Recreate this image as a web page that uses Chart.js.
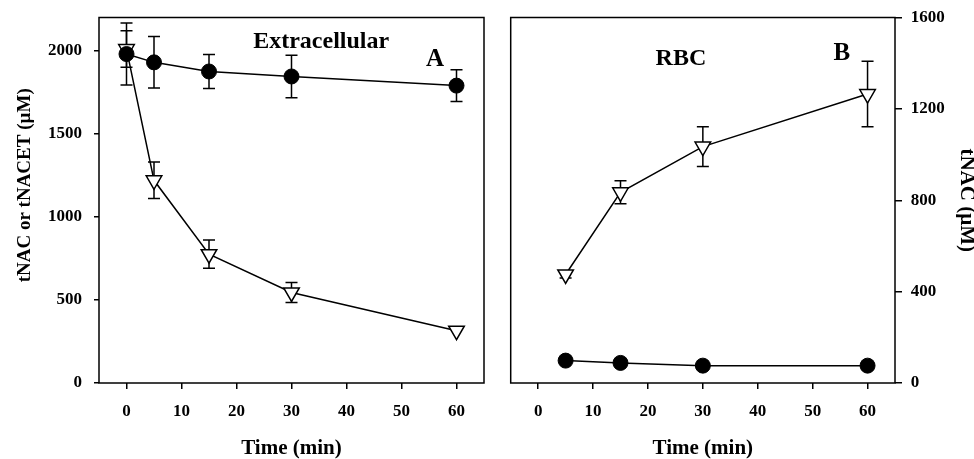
<!DOCTYPE html>
<html>
<head>
<meta charset="utf-8">
<script src="https://cdn.jsdelivr.net/npm/chart.js@4.4.0/dist/chart.umd.min.js"></script>
<style>
  html, body { margin: 0; padding: 0; background: #fff; }
  #wrap { position: relative; width: 974px; height: 459px; }
  canvas { position: absolute; top: 0; }
  #chartA { left: 0; }
  #chartB { left: 495px; }
</style>
</head>
<body>
<div id="wrap">
  <canvas id="chartA" width="495" height="459"></canvas>
  <canvas id="chartB" width="479" height="459"></canvas>
</div>
<script>
// --- DATA ---
const timeA = [0, 5, 15, 30, 60];
const nacA = [1980, 1930, 1875, 1845, 1790];
const nacAErr = [187, 155, 103, 128, 95];
const nacetA = [2010, 1220, 775, 545, 315];
const nacetAErr = [110, 110, 85, 60, 0];

const timeB = [5, 15, 30, 60];
const nacB = [98, 88, 76, 76];
const nacBErr = [0, 0, 0, 0];
const nacetB = [475, 835, 1035, 1265];
const nacetBErr = [15, 50, 87, 143];

const xTicks = [0, 10, 20, 30, 40, 50, 60];
const yTicksA = [0, 500, 1000, 1500, 2000];
const yTicksB = [0, 400, 800, 1200, 1600];

const FONT = "'Liberation Serif', 'Times New Roman', serif";
Chart.defaults.font.family = FONT;
Chart.defaults.font.weight = 'bold';
Chart.defaults.color = '#000';

// kotak bingkai plot
const framePlugin = {
    id: 'frame',
    afterDatasetsDraw(chart) {
        const { ctx, chartArea: a } = chart;
        ctx.save();
        ctx.strokeStyle = '#000';
        ctx.lineWidth = 1.5;
        ctx.strokeRect(a.left, a.top, a.right - a.left, a.bottom - a.top);
        ctx.restore();
    }
};

// error bar, digambar di belakang marker
const errorBarPlugin = {
    id: 'errorBars',
    beforeDatasetsDraw(chart) {
        const { ctx } = chart;
        const yScale = chart.scales.y;
        chart.data.datasets.forEach((ds, i) => {
            if (!ds.errors) return;
            const meta = chart.getDatasetMeta(i);
            meta.data.forEach((pt, j) => {
                const e = ds.errors[j];
                if (!e) return;
                const v = ds.data[j].y;
                const top = yScale.getPixelForValue(v + e);
                const bot = yScale.getPixelForValue(v - e);
                ctx.save();
                ctx.strokeStyle = '#000';
                ctx.lineWidth = 1.5;
                ctx.beginPath();
                ctx.moveTo(pt.x, top); ctx.lineTo(pt.x, bot);
                ctx.moveTo(pt.x - 6, top); ctx.lineTo(pt.x + 6, top);
                ctx.moveTo(pt.x - 6, bot); ctx.lineTo(pt.x + 6, bot);
                ctx.stroke();
                ctx.restore();
            });
        });
    }
};

// teks di dalam panel (posisi dalam satuan data) + judul sumbu kiri
const panelTextPlugin = {
    id: 'panelText',
    afterDraw(chart, args, opts) {
        const { ctx, scales: { x, y } } = chart;
        (opts.items || []).forEach(it => {
            ctx.save();
            ctx.font = `bold ${it.size}px ${FONT}`;
            ctx.fillStyle = '#000';
            ctx.textAlign = 'center';
            ctx.textBaseline = 'alphabetic';
            ctx.fillText(it.text, x.getPixelForValue(it.x), y.getPixelForValue(it.y));
            ctx.restore();
        });
        if (opts.yTitle) {
            const t = opts.yTitle;
            ctx.save();
            ctx.font = `bold ${t.size}px ${FONT}`;
            ctx.fillStyle = '#000';
            ctx.textAlign = 'center';
            ctx.textBaseline = 'middle';
            ctx.translate(t.cx, y.getPixelForValue(t.cy));
            ctx.rotate(-Math.PI / 2);
            ctx.fillText(t.text, 0, 0);
            ctx.restore();
        }
    }
};

function toPoints(xs, ys) {
    return xs.map((t, i) => ({ x: t, y: ys[i] }));
}

function circleSet(xs, ys, errs) {
    return {
        data: toPoints(xs, ys),
        errors: errs,
        borderColor: '#000',
        borderWidth: 1.5,
        pointStyle: 'circle',
        pointRadius: 7.5,
        pointBackgroundColor: '#000',
        pointBorderColor: '#000',
        pointBorderWidth: 1,
        tension: 0
    };
}

function triangleSet(xs, ys, errs) {
    return {
        data: toPoints(xs, ys),
        errors: errs,
        borderColor: '#000',
        borderWidth: 1.5,
        pointStyle: 'triangle',
        pointRotation: 180,
        pointRadius: 9,
        pointBackgroundColor: '#fff',
        pointBorderColor: '#000',
        pointBorderWidth: 1.5,
        tension: 0
    };
}

const plainTick = v => String(v);

function xAxis() {
    return {
        type: 'linear',
        min: -5,
        max: 65,
        afterBuildTicks: s => { s.ticks = xTicks.map(v => ({ value: v })); },
        afterFit: s => { s.height = 76; },
        ticks: { padding: 12, font: { size: 17, weight: 'bold' }, color: '#000', callback: plainTick },
        grid: { drawOnChartArea: false, tickLength: 6, color: '#000', lineWidth: 1.5 },
        border: { display: false },
        title: {
            display: true,
            text: 'Time (min)',
            color: '#000',
            font: { size: 21, weight: 'bold', lineHeight: 1 },
            padding: { top: 0, bottom: 0 }
        }
    };
}

// --- PANEL A: Extracellular ---
new Chart(document.getElementById('chartA'), {
    type: 'line',
    data: {
        datasets: [
            circleSet(timeA, nacA, nacAErr),
            triangleSet(timeA, nacetA, nacetAErr)
        ]
    },
    options: {
        responsive: false,
        animation: false,
        layout: { padding: { top: 17.5, right: 11, left: 0, bottom: 0 } },
        plugins: {
            legend: { display: false },
            tooltip: { enabled: false },
            panelText: {
                items: [
                    { text: 'Extracellular', x: 35.4, y: 2016, size: 24 },
                    { text: 'A', x: 56.1, y: 1910, size: 25 }
                ],
                yTitle: { text: 'tNAC or tNACET (µM)', cx: 25, cy: 1190, size: 19 }
            }
        },
        scales: {
            x: xAxis(),
            y: {
                type: 'linear',
                min: 0,
                max: 2200,
                afterBuildTicks: s => { s.ticks = yTicksA.map(v => ({ value: v })); },
                afterFit: s => { s.width = 99; },
                ticks: { padding: 12, font: { size: 17, weight: 'bold', lineHeight: 0.5 }, color: '#000', callback: plainTick },
                grid: { drawOnChartArea: false, tickLength: 5, color: '#000', lineWidth: 1.5 },
                border: { display: false },
                title: { display: false }
            }
        }
    },
    plugins: [errorBarPlugin, framePlugin, panelTextPlugin]
});

// --- PANEL B: RBC ---
new Chart(document.getElementById('chartB'), {
    type: 'line',
    data: {
        datasets: [
            circleSet(timeB, nacB, nacBErr),
            triangleSet(timeB, nacetB, nacetBErr)
        ]
    },
    options: {
        responsive: false,
        animation: false,
        layout: { padding: { top: 17.5, right: 0, left: 15.7, bottom: 0 } },
        plugins: {
            legend: { display: false },
            tooltip: { enabled: false },
            panelText: {
                items: [
                    { text: 'RBC', x: 26, y: 1391, size: 24 },
                    { text: 'B', x: 55.3, y: 1413, size: 25 }
                ]
            }
        },
        scales: {
            x: xAxis(),
            y: {
                type: 'linear',
                position: 'right',
                min: 0,
                max: 1600,
                afterBuildTicks: s => { s.ticks = yTicksB.map(v => ({ value: v })); },
                afterFit: s => { s.width = 79; },
                ticks: { padding: 8.7, font: { size: 17, weight: 'bold', lineHeight: 0.5 }, color: '#000', callback: plainTick },
                grid: { drawOnChartArea: false, tickLength: 7, color: '#000', lineWidth: 1.5 },
                border: { display: false },
                title: {
                    display: true,
                    text: 'tNAC (µM)',
                    color: '#000',
                    font: { size: 21, weight: 'bold', lineHeight: 1 },
                    padding: { top: -2.5, bottom: 0 }
                }
            }
        }
    },
    plugins: [errorBarPlugin, framePlugin, panelTextPlugin]
});
</script>
</body>
</html>
